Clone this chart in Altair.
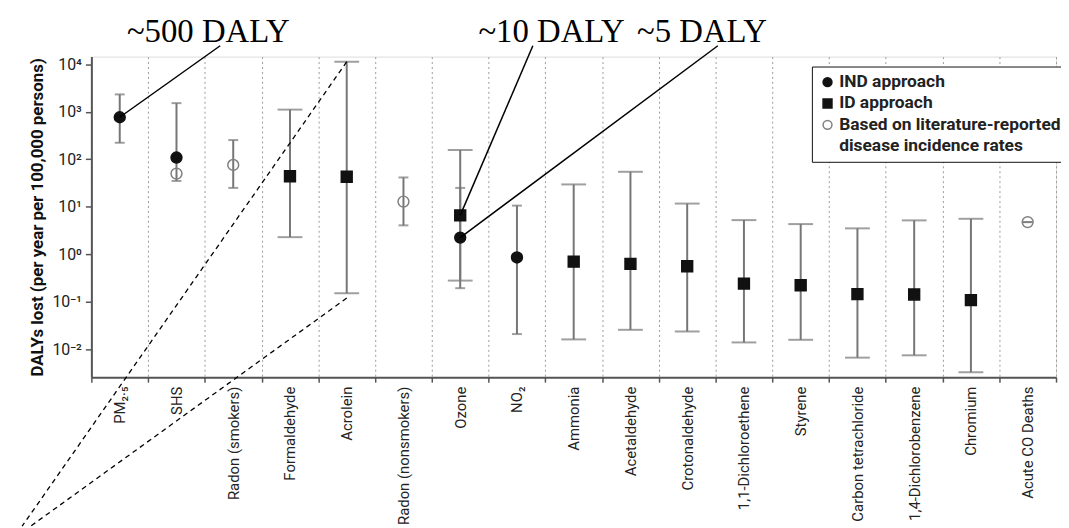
import altair as alt
import pandas as pd

# ---------------- data ----------------
categories = ["PM₂.₅", "SHS", "Radon (smokers)", "Formaldehyde", "Acrolein",
              "Radon (nonsmokers)", "Ozone", "NO₂", "Ammonia", "Acetaldehyde",
              "Crotonaldehyde", "1,1-Dichloroethene", "Styrene",
              "Carbon tetrachloride", "1,4-Dichlorobenzene", "Chromium",
              "Acute CO Deaths"]

# legend entries (the last one is the second line of the third entry)
methods = ["IND approach", "ID approach", "Based on literature-reported",
           "disease incidence rates"]

point_category = ["PM₂.₅", "SHS", "SHS", "Radon (smokers)", "Formaldehyde",
                  "Acrolein", "Radon (nonsmokers)", "Ozone", "Ozone", "NO₂",
                  "Ammonia", "Acetaldehyde", "Crotonaldehyde",
                  "1,1-Dichloroethene", "Styrene", "Carbon tetrachloride",
                  "1,4-Dichlorobenzene", "Chromium", "Acute CO Deaths"]
point_method = [0, 0, 2, 2, 1, 1, 2, 1, 0, 0, 1, 1, 1, 1, 1, 1, 1, 1, 2]
point_value = [767, 109, 50, 76, 44, 43, 12.9, 6.6, 2.25, 0.86, 0.70, 0.63,
               0.56, 0.242, 0.224, 0.145, 0.143, 0.109, 4.77]

whisker_category = ["PM₂.₅", "SHS", "Radon (smokers)", "Formaldehyde",
                    "Acrolein", "Radon (nonsmokers)", "Ozone", "Ozone", "NO₂",
                    "Ammonia", "Acetaldehyde", "Crotonaldehyde",
                    "1,1-Dichloroethene", "Styrene", "Carbon tetrachloride",
                    "1,4-Dichlorobenzene", "Chromium", "Acute CO Deaths"]
whisker_method = [0, 0, 2, 1, 1, 2, 1, 0, 0, 1, 1, 1, 1, 1, 1, 1, 1, 2]
whisker_low = [223, 35, 25, 2.3, 0.152, 4.07, 0.28, 0.194, 0.021, 0.0162,
               0.0258, 0.0238, 0.014, 0.0159, 0.0067, 0.0075, 0.0033, 4.77]
whisker_high = [2320, 1520, 254, 1110, 11300, 41.5, 157, 25, 10.6, 29.6,
                54.6, 11.7, 5.25, 4.33, 3.52, 5.18, 5.6, 4.77]

y_tick_values = [0.01, 0.1, 1, 10, 100, 1000, 10000]
y_tick_labels = ["10⁻²", "10⁻¹", "10⁰", "10¹", "10²", "10³", "10⁴"]
y_title = "DALYs lost (per year per 100,000 persons)"

# callouts (data coordinates: category index, DALY value)
ann_text = ["~500 DALY", "~10 DALY", "~5 DALY"]
ann_text_x = [1.56, 7.61, 10.26]
ann_text_y = [29800, 29800, 29800]

ann_line_x1 = [0, 6, 6]
ann_line_y1 = [767, 6.6, 2.25]
ann_line_x2 = [1.77, 7.28, 10.54]
ann_line_y2 = [24500, 24500, 24500]

zoom_line_x1 = [4, 4]
zoom_line_y1 = [11300, 0.12]
zoom_line_x2 = [-1.72, -1.57]
zoom_line_y2 = [1.9e-6, 1.9e-6]

# ---------------- frames ----------------
pts = pd.DataFrame({
    "xi": [categories.index(c) for c in point_category],
    "value": point_value,
    "method": [methods[m] for m in point_method],
})
wk = pd.DataFrame({
    "xi": [categories.index(c) for c in whisker_category],
    "lo": whisker_low,
    "hi": whisker_high,
    "method": [methods[m] for m in whisker_method],
})
caps = pd.concat([
    wk[["xi", "method"]].assign(v=wk["lo"]),
    wk[["xi", "method"]].assign(v=wk["hi"]),
])
caps_wide = caps[caps["method"] == methods[1]]
caps_narrow = caps[caps["method"] != methods[1]]

ann_t = pd.DataFrame({"x": ann_text_x, "y": ann_text_y, "t": ann_text})
ann_l = pd.DataFrame({"x": ann_line_x1, "y": ann_line_y1,
                      "x2": ann_line_x2, "y2": ann_line_y2})
zoom_l = pd.DataFrame({"x": zoom_line_x1, "y": zoom_line_y1,
                       "x2": zoom_line_x2, "y2": zoom_line_y2})

n = len(categories)
centers = list(range(n))
bounds = [i - 0.5 for i in range(n + 1)]

LABEL_FONT = "Roboto"
AXIS_COL = "#555555"
WHISKER_COL = "#767676"

xscale = alt.Scale(domain=[-0.5, n - 0.5], nice=False, zero=False)
yscale = alt.Scale(type="log", domain=[0.0026, 14490], nice=False)

y_label_expr = ("[" + ",".join("'" + s + "'" for s in y_tick_labels) + "]"
                "[indexof(" + "[" + ",".join(str(v) for v in y_tick_values) + "], datum.value)]")
x_label_expr = "[" + ",".join("'" + s + "'" for s in categories) + "][round(datum.value)]"

yaxis = alt.Axis(values=y_tick_values, labelExpr=y_label_expr, title=y_title,
                 grid=False, domainColor=AXIS_COL, domainWidth=2,
                 tickColor=AXIS_COL, tickSize=6, tickWidth=1.5,
                 labelFont=LABEL_FONT, labelFontSize=16, labelColor="#222222",
                 labelPadding=4, titleFont=LABEL_FONT, titleFontSize=17,
                 titleFontWeight="bold", titleColor="#111111", titlePadding=5)

axis_bounds = alt.Axis(values=bounds, labels=False, title=None, orient="bottom",
                       grid=True, gridColor="#9a9a9a", gridDash=[2, 3],
                       gridWidth=1, domain=True, domainColor=AXIS_COL,
                       domainWidth=2, ticks=True, tickColor=AXIS_COL,
                       tickSize=5, tickWidth=1.5)
axis_labels = alt.Axis(values=centers, labelExpr=x_label_expr, title=None,
                       orient="bottom", grid=False, domain=False, ticks=False,
                       labelAngle=-90, labelAlign="right", labelBaseline="middle",
                       labelPadding=9, labelFont=LABEL_FONT, labelFontSize=15,
                       labelColor="#222222", labelLimit=300)

fill_scale = alt.Scale(domain=methods,
                       range=["#111111", "#111111", "transparent", "transparent"])
stroke_scale = alt.Scale(domain=methods,
                         range=["#111111", "#111111", "#808080", "transparent"])
shape_scale = alt.Scale(domain=methods, range=["circle", "square", "circle", "circle"])

legend = alt.Legend(title=None, orient="none", legendX=726, legendY=10,
                    fillColor="white", strokeColor="#111111", padding=7,
                    labelFont=LABEL_FONT, labelFontSize=17.5,
                    labelFontWeight="bold", labelColor="#222222",
                    labelOffset=3, symbolSize=80, symbolStrokeWidth=1.5,
                    rowPadding=2.5, labelLimit=400)

rules = alt.Chart(wk).mark_rule(color=WHISKER_COL, strokeWidth=2).encode(
    x=alt.X("xi:Q", scale=xscale, axis=axis_bounds),
    y=alt.Y("lo:Q", scale=yscale, axis=yaxis),
    y2="hi:Q",
)

caps_w = alt.Chart(caps_wide).mark_tick(orient="horizontal", color=WHISKER_COL,
                                        thickness=2, size=25).encode(
    x=alt.X("xi:Q", scale=xscale, axis=None),
    y=alt.Y("v:Q", scale=yscale, axis=yaxis),
)
caps_n = alt.Chart(caps_narrow).mark_tick(orient="horizontal", color=WHISKER_COL,
                                          thickness=2, size=10).encode(
    x=alt.X("xi:Q", scale=xscale, axis=None),
    y=alt.Y("v:Q", scale=yscale, axis=yaxis),
)

points = alt.Chart(pts).mark_point(size=120, strokeWidth=1.5, opacity=1).encode(
    x=alt.X("xi:Q", scale=xscale, axis=axis_labels),
    y=alt.Y("value:Q", scale=yscale, axis=yaxis),
    shape=alt.Shape("method:N", scale=shape_scale, legend=legend),
    fill=alt.Fill("method:N", scale=fill_scale, legend=legend),
    stroke=alt.Stroke("method:N", scale=stroke_scale, legend=legend),
)

ann_lines = alt.Chart(ann_l).mark_rule(color="black", strokeWidth=1.5, clip=False).encode(
    x=alt.X("x:Q", scale=xscale, axis=None),
    y=alt.Y("y:Q", scale=yscale, axis=yaxis),
    x2="x2:Q", y2="y2:Q",
)

zoom_lines = alt.Chart(zoom_l).mark_rule(color="black", strokeWidth=1.3,
                                         strokeDash=[5, 4], clip=False).encode(
    x=alt.X("x:Q", scale=xscale, axis=None),
    y=alt.Y("y:Q", scale=yscale, axis=yaxis),
    x2="x2:Q", y2="y2:Q",
)

ann_texts = alt.Chart(ann_t).mark_text(font="Liberation Serif", fontSize=33,
                                       baseline="alphabetic", align="center",
                                       color="black", clip=False).encode(
    x=alt.X("x:Q", scale=xscale, axis=None),
    y=alt.Y("y:Q", scale=yscale, axis=yaxis),
    text="t:N",
)

chart = alt.layer(rules, caps_w, caps_n, points, ann_lines, zoom_lines,
                  ann_texts).resolve_axis(
    x="independent"
).properties(
    width=972, height=323,
    autosize=alt.AutoSizeParams(type="none"),
    padding={"left": 84, "top": 47, "right": 5, "bottom": 150},
).configure_view(
    fill="#e7e7e7", stroke=None
).configure(background="white")

chart.save("out.html", embed_options={"renderer": "svg", "actions": False})
